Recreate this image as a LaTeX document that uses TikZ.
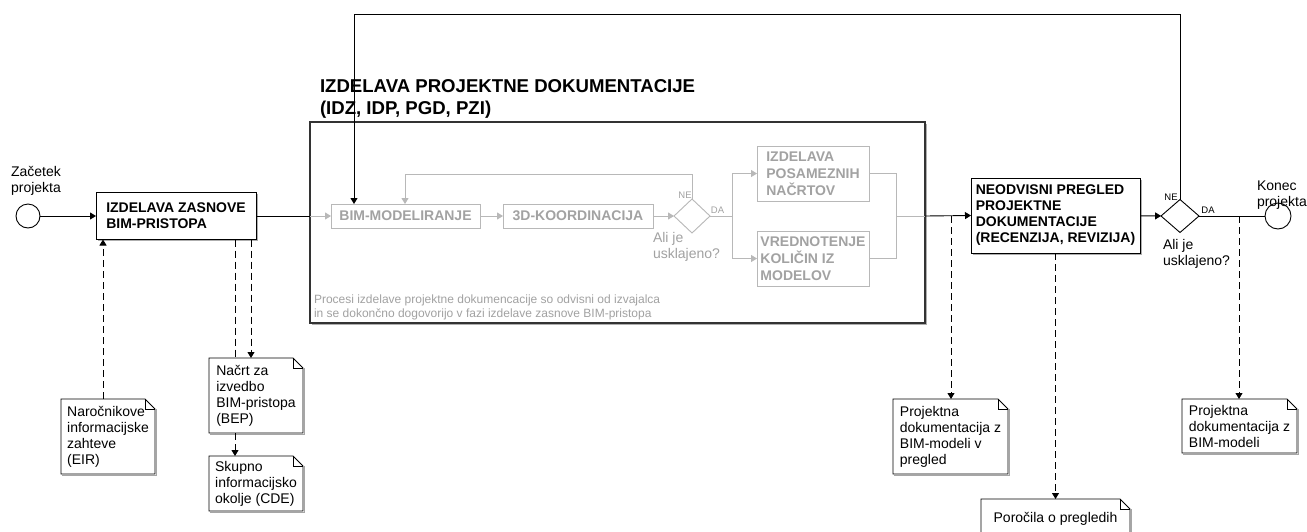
\documentclass[tikz,border=0pt]{standalone}
\usepackage{fontspec}
\setmainfont{Liberation Sans}
\usetikzlibrary{arrows.meta,shapes.geometric,shadows}
\definecolor{lg}{HTML}{B8B8B8}
\definecolor{tg}{HTML}{A2A2A2}
\newcommand{\drawnote}[1]{%
  \draw[line width=0.8pt] (#1.north west) -- ([xshift=-10pt]#1.north east) -- ([yshift=-10pt]#1.north east) -- (#1.south east) -- (#1.south west) -- cycle;
  \draw[line width=0.6pt] ([xshift=-10pt]#1.north east) -- ([xshift=-10pt,yshift=-10pt]#1.north east) -- ([yshift=-10pt]#1.north east);
  \draw[black!35, line width=1pt] ([xshift=1.3pt,yshift=-10pt]#1.north east) -- ([xshift=1.3pt,yshift=-1.3pt]#1.south east) -- ([xshift=1.3pt,yshift=-1.3pt]#1.south west);}
\begin{document}
\begin{tikzpicture}[x=1pt,y=-1pt,
  every node/.style={inner sep=0pt, outer sep=0pt},
  >={Triangle[length=6pt,width=7pt]},
  flow/.style={draw=black, line width=0.9pt},
  gflow/.style={draw=lg, line width=0.9pt},
  assoc/.style={draw=black, line width=0.9pt, dash pattern=on 7pt off 4pt},
  shad/.style={drop shadow={shadow xshift=1.5pt, shadow yshift=-1.5pt, fill=black!45, opacity=0.7}},
  task/.style={draw=black, line width=0.9pt, fill=white, shad, align=left, font=\fontsize{14}{16}\selectfont\bfseries},
  gtask/.style={draw=lg, line width=0.9pt, fill=white, align=left, text=tg, font=\fontsize{14}{17}\selectfont\bfseries},
  lbl/.style={font=\fontsize{14}{16}\selectfont, align=left},
  notetxt/.style={font=\fontsize{14}{16}\selectfont, align=left},
  tiny/.style={font=\fontsize{9.5}{10}\selectfont},
  gw/.style={diamond, line width=0.9pt, fill=white},
]
\useasboundingbox (0,0) rectangle (1307,531);
\clip (0,0) rectangle (1307,531);

% main group box
\node[draw=black!80, line width=1.3pt, fill=white, shad, minimum width=615pt, minimum height=201pt] (main) at (617.5,222.5) {};
\node[font=\fontsize{18.6}{22}\selectfont\bfseries, align=left, anchor=west] (title) at (320,99) {IZDELAVA PROJEKTNE DOKUMENTACIJE\\(IDZ, IDP, PGD, PZI)};

% start / first task
\node[circle, draw, line width=0.9pt, fill=white, minimum size=24pt] (start) at (28,216) {};
\node[lbl, align=center] (startl) at (36,181) {Začetek\\projekta};
\node[task, minimum width=160pt, minimum height=47pt] (zas) at (176,216) {IZDELAVA ZASNOVE\\BIM-PRISTOPA};

% inner gray process
\node[gtask, minimum width=149pt, minimum height=24pt] (bim) at (405.5,216) {BIM-MODELIRANJE};
\node[gtask, minimum width=150pt, minimum height=24pt] (koord) at (578,216) {3D-KOORDINACIJA};
\node[gw, draw=lg, minimum width=36pt, minimum height=34pt] (gd) at (692,216) {};
\node[tiny, text=tg] (gne) at (685,195) {NE};
\node[tiny, text=tg] (gda) at (717.5,210) {DA};
\node[lbl, text=tg, anchor=west] (gali) at (653,246.5) {Ali je\\usklajeno?};
\node[gtask, minimum width=112pt, minimum height=55pt] (posam) at (813,173.5) {IZDELAVA\\POSAMEZNIH\\NAČRTOV};
\node[gtask, minimum width=112pt, minimum height=55pt] (vred) at (813,258.5) {VREDNOTENJE\\KOLIČIN IZ\\MODELOV};
\node[font=\fontsize{12}{14}\selectfont, text=tg, align=left, anchor=west] (proc) at (314,307) {Procesi izdelave projektne dokumencacije so odvisni od izvajalca\\in se dokončno dogovorijo v fazi izdelave zasnove BIM-pristopa};

% review task and end
\node[task, minimum width=169pt, minimum height=75pt] (neod) at (1055.5,215.5) {NEODVISNI PREGLED\\PROJEKTNE\\DOKUMENTACIJE\\(RECENZIJA, REVIZIJA)};
\node[gw, draw=black, minimum width=38pt, minimum height=33pt] (bd) at (1180,216) {};
\node[tiny] (bne) at (1171,197) {NE};
\node[tiny] (bda) at (1208,210) {DA};
\node[lbl, anchor=west] (bali) at (1163,253.5) {Ali je\\usklajeno?};
\node[circle, draw, line width=0.9pt, fill=white, minimum size=26pt] (end) at (1278,216) {};
\node[lbl, anchor=west] (endl) at (1257,195.5) {Konec\\projekta};

% data objects
\node[notetxt, minimum width=94pt, minimum height=75pt] (eir) at (108,436.5) {Naročnikove\\informacijske\\zahteve\\(EIR)};
\node[notetxt, minimum width=94pt, minimum height=75pt] (bep) at (256,395.5) {Načrt za\\izvedbo\\BIM-pristopa\\(BEP)};
\node[notetxt, minimum width=94pt, minimum height=55pt] (cde) at (256,483.5) {Skupno\\informacijsko\\okolje (CDE)};
\node[notetxt, minimum width=115pt, minimum height=75pt] (pd1) at (950.5,436.5) {Projektna\\dokumentacija z\\BIM-modeli v\\pregled};
\node[notetxt, minimum width=115pt, minimum height=54pt] (pd2) at (1239.5,426) {Projektna\\dokumentacija z\\BIM-modeli};
\node[notetxt, minimum width=149pt, minimum height=40pt] (por) at (1055.5,519) {Poročila o pregledih};
\drawnote{eir}\drawnote{bep}\drawnote{cde}\drawnote{pd1}\drawnote{pd2}\drawnote{por}

% sequence flows
\coordinate (mL) at (310,216);
\coordinate (mR) at (925,216);
\draw[flow,->] (start) -- (zas);
\draw[flow] (zas.east) -- (mL);
\draw[gflow,->] (mL) -- (bim.west);
\draw[gflow,->] (bim) -- (koord);
\draw[gflow,->] (koord) -- (gd);
\coordinate (gloop) at (405,174);
\draw[gflow,->] (gd.north) |- (gloop) -- (gloop |- bim.north);
\coordinate (split) at (732,216);
\draw[gflow,->] (gd.east) -- (split) |- (posam.west);
\draw[gflow,->] (split) |- (vred.west);
\coordinate (merge) at (896,216);
\draw[gflow] (posam.east) -| (merge) -- (mR);
\draw[gflow] (vred.east) -| (merge);
\draw[flow,->] (mR) -- (neod.west);
\draw[flow,->] (neod) -- (bd);
\draw[flow] (bd) -- (end);
\coordinate (bigloop) at (354,14);
\draw[flow,->] (bd.north) |- (bigloop) -- (bigloop |- bim.north);

% associations
\draw[assoc,->] ([xshift=-5pt]eir.north) -- ([xshift=-5pt]eir.north |- zas.south);
\draw[assoc,->] ([xshift=-5pt]bep.north |- zas.south) -- ([xshift=-5pt]bep.north);
\draw[assoc] ([xshift=-21pt]bep.north |- zas.south) -- ([xshift=-21pt]bep.north);
\draw[assoc,->] ([xshift=-21pt]bep.south) -- ([xshift=-21pt]cde.north);
\coordinate (d1) at (951,216);
\draw[assoc,->] (d1) -- (d1 |- pd1.north);
\draw[assoc,->] (neod.south) -- (por.north);
\coordinate (d2) at (1239,216);
\draw[assoc,->] (d2) -- (d2 |- pd2.north);
\end{tikzpicture}
\end{document}
